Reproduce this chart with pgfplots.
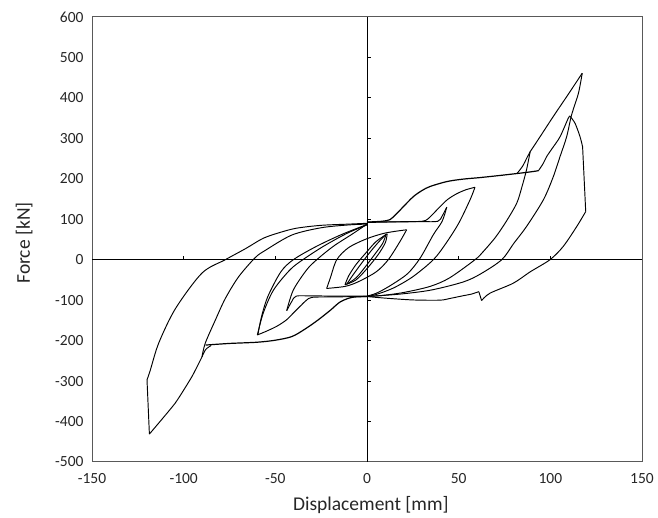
\documentclass[border=0pt]{standalone}
\usepackage{pgfplots}
\pgfplotsset{compat=1.18}
\usepackage{fontspec}
\setmainfont{Carlito}
\definecolor{frame}{HTML}{595959}
\definecolor{txt}{HTML}{262626}

\begin{document}
\begin{tikzpicture}
\begin{axis}[
    scale only axis,
    width=550pt, height=445pt,
    xmin=-150, xmax=150, ymin=-500, ymax=600,
    xtick={-150,-100,-50,0,50,100,150},
    xticklabels={-150,-100,-50,0,50,100,150},
    ytick={-500,-400,-300,-200,-100,0,100,200,300,400,500,600},
    yticklabels={-500,-400,-300,-200,-100,0,100,200,300,400,500,600},
    tick style={draw=none},
    axis line style={draw=frame, line width=1pt},
    ticklabel style={font=\fontsize{15.5}{18}\selectfont, text=txt},
    xticklabel style={anchor=north, yshift=-8pt},
    yticklabel style={anchor=east, xshift=-5pt},
    xlabel={Displacement [mm]},
    ylabel={Force [kN]},
    label style={font=\fontsize{19.5}{22}\selectfont, text=txt},
    xlabel style={at={(axis description cs:0.507,-0.0966)}, anchor=center},
    ylabel style={at={(axis description cs:-0.1236,0.492)}, anchor=center},
    hc/.style={black, line width=0.95pt, no markers, smooth, tension=0.5},
    hl/.style={black, line width=0.95pt, no markers},
]
% zero axes with their ticks
\draw[black, line width=0.9pt] (axis cs:0,-500) -- (axis cs:0,600);
\draw[black, line width=0.9pt] (axis cs:-150,0) -- (axis cs:150,0);
\pgfplotsinvokeforeach{-400,-300,-200,-100,100,200,300,400,500}{
  \draw[black, line width=0.8pt] (axis cs:0,#1) -- ([xshift=4pt]axis cs:0,#1);
}
\pgfplotsinvokeforeach{-100,-50,50,100}{
  \draw[black, line width=0.8pt] (axis cs:#1,0) -- ([yshift=4pt]axis cs:#1,0);
}

% small elastic loops
\addplot[hc] coordinates {(-11,-60) (-8,-40) (-4,-15) (1,15) (6,42) (10.4,63)};
\addplot[hc] coordinates {(10.4,63) (8.5,40) (4,12) (-1,-18) (-6,-45) (-11,-60)};
\addplot[hc] coordinates {(-12,-62) (-10,-40) (-6,-12) (0,20) (5,45) (11,64)};
\addplot[hc] coordinates {(11,64) (10,42) (6,12) (0,-22) (-6,-50) (-12,-62)};
\addplot[hc] coordinates {(-22,-71) (-20,-45) (-16.5,0) (-10,30) (0,52) (10,66) (21.6,74)};
\addplot[hc] coordinates {(21.6,74) (18,45) (11.6,0) (5,-30) (-5,-55) (-12,-66) (-22,-71)};

% +-44 mm
\addplot[hc] coordinates {(0,92) (15,93.5) (30,94) (38.6,95) (41,108) (43.5,130)};
\addplot[hc] coordinates {(43.5,130) (41,95) (36.2,62) (29,4) (22,-35) (12,-66) (5,-83) (0,-90)};
\addplot[hc] coordinates {(0,-90) (-15,-90) (-30,-89.5) (-38.6,-90) (-41,-103) (-43.8,-126)};
\addplot[hc] coordinates {(-43.8,-126) (-40.2,-75) (-32.9,-25) (-27.4,0) (-18.4,33) (-7.5,65) (0,88)};

% +-60 mm
\addplot[hc] coordinates {(0,93) (20,94) (30,95) (33,100) (36,113) (39.8,131) (44,149) (48.9,163) (54,173) (58.9,179)};
\addplot[hc] coordinates {(58.9,179) (56.2,148) (50,90) (43,40) (36.2,0) (25,-42) (14.4,-70) (5,-86) (0,-91)};
\addplot[hc] coordinates {(0,-91) (-20,-92) (-30,-93) (-33,-100) (-36,-113) (-40,-131) (-44,-149) (-49,-164) (-54.5,-176) (-59.8,-186)};
\addplot[hc] coordinates {(-59.8,-186) (-56.6,-132) (-51,-75) (-42,-25) (-35,0) (-23.8,33) (-11,65) (0,86)};
\addplot[hc] coordinates {(-59.5,-185) (-57.5,-140) (-54,-90) (-47,-30) (-40.2,0) (-28,32) (-14,62) (0,87)};

% upper and lower envelopes
\addplot[hc, line width=1.2pt] coordinates {(0,93) (8,95) (12.5,99) (16,113) (19.8,131) (25.3,156) (30,171) (34.4,181) (43.4,193) (52,199) (61.6,203) (72,208) (81.7,213) (89,217) (93.5,220)};
\addplot[hc, line width=1.2pt] coordinates {(0,-91) (-8,-93) (-14.5,-104) (-20,-125) (-27,-150) (-34,-172) (-41,-190) (-50,-199) (-60,-204) (-75,-207) (-88,-211)};

% +-90 mm
\addplot[hc] coordinates {(82,214) (85,232) (87,250) (89,267)};
\addplot[hc] coordinates {(89,267) (87,222) (84.5,180) (81.7,140) (76,95) (70,55) (63,18) (58.9,0) (45,-45) (34.4,-66) (20,-81) (8,-88.5) (0,-91)};
\addplot[hc] coordinates {(-85,-212) (-88,-222) (-90,-240)};
\addplot[hc] coordinates {(-90,-240) (-88.2,-206) (-82.7,-149) (-77.3,-96) (-70,-42) (-61,5) (-55.5,23) (-41,61) (-25,79) (-10,86) (0,88)};

% +-120 mm
\addplot[hc] coordinates {(89,267) (94.4,304) (101.6,354) (108.9,403) (117.4,461)};
\addplot[hc] coordinates {(117.4,461) (115.3,411) (111.6,358) (108.9,304) (105.3,255) (101.6,205) (96.2,148) (87,82) (80,40) (73.5,0) (62,-35) (52.5,-55) (35,-75) (18,-85) (0,-91)};
\addplot[hc] coordinates {(93.5,220) (96,237) (98,255) (101,275) (105.3,304) (109.8,350) (110.7,355)};
\addplot[hc] coordinates {(110.7,355) (113.5,337) (116.2,304) (117.6,279)};
\addplot[hl] coordinates {(117.6,279) (119.3,119)};
\addplot[hc] coordinates {(119.3,119) (114.4,82) (107,32.6) (99.8,0) (89,-30) (79.8,-58) (67,-83) (62.5,-101)};
\addplot[hl] coordinates {(62.5,-101) (61,-79)};
\addplot[hc] coordinates {(61,-79) (57,-85) (52.5,-89) (45,-96) (39.8,-100) (25.3,-99.5) (10,-95) (0,-91)};
\addplot[hc, tension=0.3] coordinates {(-90,-240) (-95.5,-289) (-104.7,-355) (-118.7,-431)};
\addplot[hl] coordinates {(-118.7,-431) (-120,-297)};
\addplot[hc] coordinates {(-120,-297) (-118.2,-273) (-113.6,-206) (-104.5,-121) (-90,-33) (-77.3,0) (-66,28) (-56.6,53) (-47,68) (-38.3,78) (-25,85) (-10,88) (0,90)};

\coordinate (bl) at (rel axis cs:-0.1673,-0.1258);
\coordinate (tr) at (rel axis cs:1.0291,1.0382);
\end{axis}
\path (bl) rectangle (tr);
\end{tikzpicture}
\end{document}
